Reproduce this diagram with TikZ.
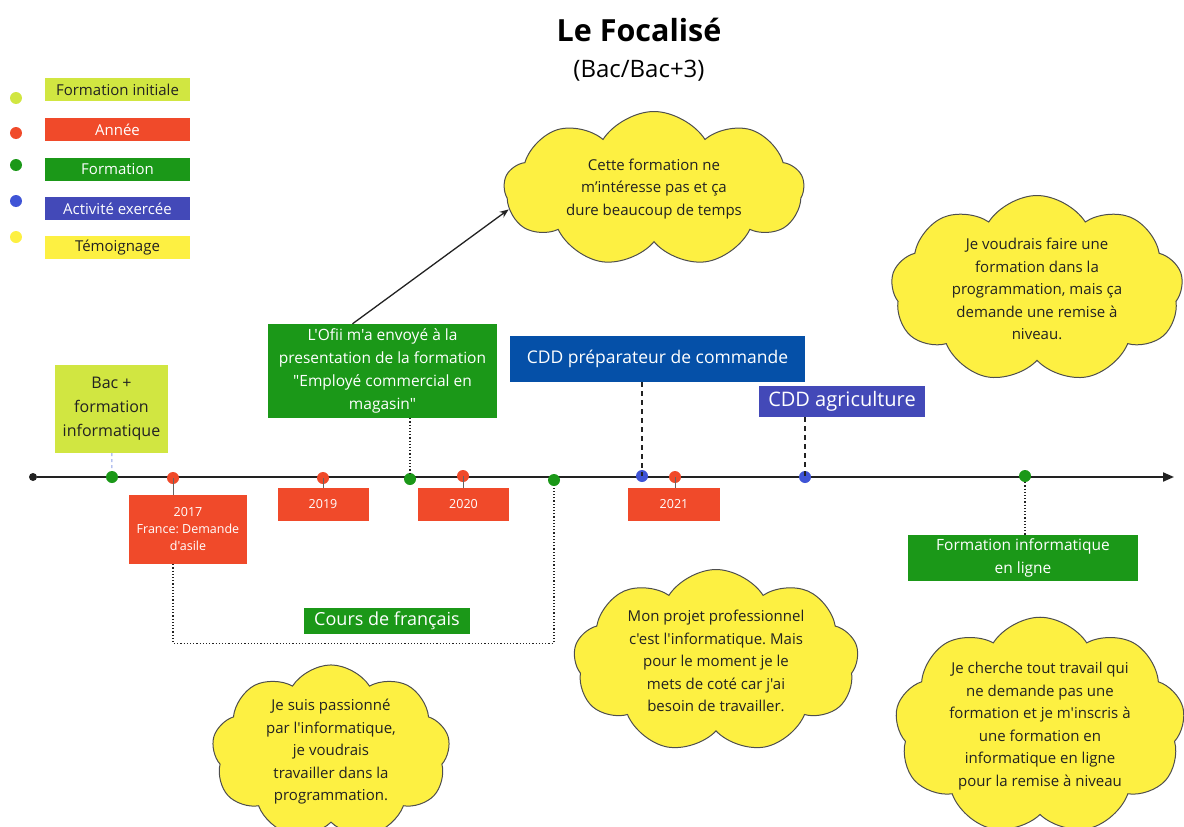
\documentclass[tikz,border=0pt]{standalone}
\usepackage{fontspec}
\setmainfont{Open Sans}[Ligatures=TeXOff]
\usepackage{xcolor}
\usepackage{tikz}
\usetikzlibrary{
  arrows.meta,
  calc,
  shapes.symbols
}
\frenchspacing
\definecolor{lime}{RGB}{209,230,65}
\definecolor{anneered}{RGB}{240,74,42}
\definecolor{formgreen}{RGB}{27,152,24}
\definecolor{actblue}{RGB}{67,73,184}
\definecolor{dotblue}{RGB}{63,84,214}
\definecolor{cddblue}{RGB}{5,80,168}
\definecolor{temyellow}{RGB}{253,240,66}
\definecolor{ink}{RGB}{34,34,34}
\definecolor{linkblue}{RGB}{140,160,230}
\newcommand{\fsz}[2]{\fontsize{#1}{#2}\selectfont}
\tikzset{
  box/.style={
    rectangle,
    inner sep=0pt,
    align=center,
    text=white},
  dot/.style={
    circle,
    inner sep=0pt,
    minimum size=12pt},
  bubble/.style={
    cloud,
    cloud puffs=9,
    cloud puff arc=115,
    cloud ignores aspect,
    draw=ink!80,
    line width=1pt,
    fill=temyellow,
    text=ink,
    align=center,
    inner sep=0pt,
    font=\fsz{15}{22.5}},
  timeline/.style={
    -{Triangle[length=11pt,width=9pt]},
    line width=2pt,
    draw=ink},
  tick/.style={
    draw=ink!70,
    line width=0.8pt},
  dotlink/.style={
    draw=ink,
    dotted,
    line width=1.2pt},
  dashlink/.style={
    draw=ink,
    dash pattern=on 5pt off 4pt,
    line width=1.2pt}
  }
\begin{document}
\begin{tikzpicture}[x=1pt,y=-1pt]
    \useasboundingbox (0,0) rectangle (1184,827);
    \node (titre) at (639,30) {\fsz{30.5}{36}\bfseries Le Focalisé};
    \node (sous) at (639,71) {\fsz{24}{28}(Bac/Bac+3)};
    % legende
    \node[dot, fill=lime] (pinit) at (16,98) {};
    \node[dot, fill=anneered] (pannee) at (16,133) {};
    \node[dot, fill=formgreen] (pform) at (16,165) {};
    \node[dot, fill=dotblue] (pact) at (16,201) {};
    \node[dot, fill=temyellow] (ptem) at (16,237) {};
    \node[box, fill=lime, text=ink, minimum width=145pt, minimum height=23pt, font=\fsz{15}{17}] (linit) at (117.5,89.5) {Formation initiale};
    \node[box, fill=anneered, minimum width=145pt, minimum height=23pt, font=\fsz{15}{17}] (lannee) at (117.5,129.5) {Année};
    \node[box, fill=formgreen, minimum width=145pt, minimum height=23pt, font=\fsz{15}{17}] (lform) at (117.5,169) {Formation};
    \node[box, fill=actblue, minimum width=145pt, minimum height=23pt, font=\fsz{15}{17}] (lact) at (117.5,208.5) {Activité exercée};
    \node[box, fill=temyellow, text=ink, minimum width=145pt, minimum height=23pt, font=\fsz{15}{17}] (ltem) at (117.5,247.5) {Témoignage};
    % frise
    \node[dot, fill=ink, minimum size=8pt] (t0) at (33,477) {};
    \coordinate (tend) at (1174,477);
    \draw[timeline] (t0) -- (tend);
    \node[dot, fill=formgreen] (d1) at (112,477) {};
    \node[dot, fill=anneered] (d2) at (173,478) {};
    \node[dot, fill=anneered] (d3) at (323,478) {};
    \node[dot, fill=formgreen] (d4) at (410,479) {};
    \node[dot, fill=anneered] (d5) at (463,476) {};
    \node[dot, fill=formgreen] (d6) at (554,480) {};
    \node[dot, fill=dotblue] (d7) at (642,476) {};
    \node[dot, fill=anneered] (d8) at (675,477) {};
    \node[dot, fill=dotblue] (d9) at (805,477) {};
    \node[dot, fill=formgreen] (d10) at (1025,476) {};
    % cases
    \node[box, fill=lime, text=ink, minimum width=113pt, minimum height=88pt, font=\fsz{16}{24}] (bac) at (111.5,409) {Bac +\\formation\\informatique};
    \node[box, fill=anneered, minimum width=118pt, minimum height=69pt, font=\fsz{12.5}{17}] (y2017) at (188,529.5) {2017\\France: Demande\\d'asile};
    \node[box, fill=anneered, minimum width=91pt, minimum height=33pt, font=\fsz{12.5}{15}] (y2019) at (323,504.5) {2019};
    \node[box, fill=formgreen, minimum width=229pt, minimum height=94pt, font=\fsz{15.5}{23}] (ofii) at (382.5,371) {L'Ofii m'a envoyé à la\\presentation de la formation\\"Employé commercial en\\magasin"};
    \node[box, fill=anneered, minimum width=91pt, minimum height=33pt, font=\fsz{12.5}{15}] (y2020) at (463.5,504.5) {2020};
    \node[box, fill=formgreen, minimum width=166pt, minimum height=26pt, font=\fsz{18}{22}] (cours) at (387,621) {Cours de français};
    \node[box, fill=cddblue, minimum width=295pt, minimum height=46pt, font=\fsz{17.5}{22}] (cddprep) at (657.5,359) {CDD préparateur de commande};
    \node[box, fill=actblue, minimum width=166pt, minimum height=31pt, font=\fsz{20}{24}] (cddagri) at (842,401.5) {CDD agriculture};
    \node[box, fill=anneered, minimum width=92pt, minimum height=33pt, font=\fsz{12.5}{15}] (y2021) at (674,504.5) {2021};
    \node[box, fill=formgreen, minimum width=230pt, minimum height=46pt, font=\fsz{15.5}{23}] (enligne) at (1023,558) {Formation informatique\\en ligne};
    % temoignages
    \node[bubble, minimum width=300pt, minimum height=155pt] (c1) at (654,189) {Cette formation ne\\m’intéresse pas et ça\\dure beaucoup de temps};
    \node[bubble, minimum width=292pt, minimum height=187pt] (c2) at (1037,289) {Je voudrais faire une\\formation dans la\\programmation, mais ça\\demande une remise à\\niveau.};
    \node[bubble, minimum width=285pt, minimum height=183pt] (c3) at (716,661) {Mon projet professionnel\\c'est l'informatique. Mais\\pour le moment je le\\mets de coté car j'ai\\besoin de travailler.};
    \node[bubble, minimum width=290pt, minimum height=185pt] (c4) at (1040,726) {Je cherche tout travail qui\\ne demande pas une\\formation et je m'inscris à\\une formation en\\informatique en ligne\\pour la remise à niveau};
    \node[bubble, minimum width=238pt, minimum height=160pt] (c5) at (331,752) {Je suis passionné\\par l'informatique,\\je voudrais\\travailler dans la\\programmation.};
    % liens
    \draw[draw=linkblue, dashed, line width=1pt] (bac) -- (d1);
    \draw[tick] (d2.center) -- (d2 |- y2017.north);
    \draw[tick] (d3.center) -- (d3 |- y2019.north);
    \draw[tick] (d5.center) -- (d5 |- y2020.north);
    \draw[tick] (d8.center) -- (d8 |- y2021.north);
    \draw[dotlink] (ofii.south -| d4) -- (d4);
    \draw[dotlink] (y2017.south -| d2) -- ++(0,79) -| (d6);
    \draw[dashlink] (cddprep.south -| d7) -- (d7.center);
    \draw[dashlink] (cddagri.south -| d9) -- (d9.center);
    \draw[dotlink] (d10) -- (enligne.north -| d10);
    \draw[-{Stealth[length=9pt,width=7pt]}, line width=1.3pt, draw=ink] ([xshift=-30pt]ofii.north) -- (c1.188);
  \end{tikzpicture}
\end{document}
